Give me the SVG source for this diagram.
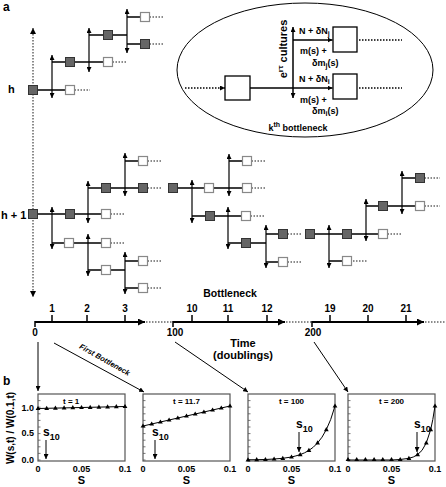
<svg xmlns="http://www.w3.org/2000/svg" xmlns:xlink="http://www.w3.org/1999/xlink" width="446" height="487" viewBox="0 0 446 487">
<style>
text{font-family:"Liberation Sans",Arial,sans-serif;font-weight:bold;fill:#000}
.ln{stroke:#000;stroke-width:1.5;fill:none}
.br{stroke:#000;stroke-width:1.2;fill:none;marker-start:url(#ah);marker-end:url(#ah)}
.dt{stroke:#666;stroke-width:1.5;stroke-dasharray:1.5 1.5;fill:none}
.dk{fill:#666;stroke:#333;stroke-width:1}
.wt{fill:#fff;stroke:#888;stroke-width:1.2}
.bx{fill:#fff;stroke:#000;stroke-width:1.3}
.fr{fill:#fff;stroke:#555;stroke-width:1.2}
.tk{stroke:#555;stroke-width:0.8}
.cv{stroke:#000;stroke-width:1;fill:none}
.ax{stroke:#000;stroke-width:2;fill:none}
.pt{fill:#000}
.sm{font-size:9px}
.md{font-size:10px}
.sl{font-size:11px}
</style>
<defs>
<marker id="ah" viewBox="0 0 8 8" refX="8" refY="4" markerWidth="5" markerHeight="5" markerUnits="userSpaceOnUse" orient="auto-start-reverse"><path d="M0,0 L8,4 L0,8 z" fill="#000"/></marker>
<marker id="ag" viewBox="0 0 8 8" refX="8" refY="4" markerWidth="6" markerHeight="6" markerUnits="userSpaceOnUse" orient="auto-start-reverse"><path d="M0,0 L8,4 L0,8 z" fill="#000"/></marker>
<marker id="ab" viewBox="0 0 8 8" refX="8" refY="4" markerWidth="8" markerHeight="7" markerUnits="userSpaceOnUse" orient="auto"><path d="M0,0 L8,4 L0,8 z" fill="#000"/></marker>
<path id="tr" d="M0,-2.6 L2.4,1.6 L-2.4,1.6Z"/>
</defs>

<text x="3" y="11" style="font-size:12px">a</text>
<text x="8" y="93" style="font-size:11px">h</text>
<text x="1" y="219" style="font-size:11px">h + 1</text>

<g id="connectors">
<line x1="33" y1="28" x2="33" y2="297" class="dt" style="marker-start:url(#ag);marker-end:url(#ag)"/>
<path class="ln" d="M37.5,90H65.5M52,62H65.5M74.5,62H103.5M89,35H103.5M112.5,35H127M127,17H140.5M127,44H140.5"/>
<path class="dt" d="M74.5,90H90M112.5,62H127M149.5,17H164M149.5,44H164"/>
<line class="br" x1="52" y1="55" x2="52" y2="98"/>
<line class="br" x1="89" y1="28" x2="89" y2="72"/>
<line class="br" x1="127" y1="9" x2="127" y2="53"/>
<path class="ln" d="M37.5,214H65.5M74.5,214H101.5M52,243H64.5M73.5,243H101.5M88,188H101.5M110.5,188H138.5M125,161H138.5M88,270H101.5M110.5,270H125M125,261H138.5M125,288H138.5"/>
<path class="dt" d="M110.5,214H125M110.5,243H125M147.5,188H162M147.5,161H162M147.5,261H162M147.5,288H162"/>
<line class="br" x1="52" y1="207" x2="52" y2="249"/>
<line class="br" x1="88" y1="181" x2="88" y2="223"/>
<line class="br" x1="125" y1="153" x2="125" y2="196"/>
<line class="br" x1="88" y1="234" x2="88" y2="276"/>
<line class="br" x1="125" y1="252" x2="125" y2="294"/>
<path class="ln" d="M177.5,188H204.5M213.5,188H242.5M229,161H242.5M192,216H205.5M214.5,216H241.5M228,243H241.5M250.5,243H266M266,234H278.5M266,262H278.5"/>
<path class="dt" d="M251.5,188H266M251.5,161H266M250.5,216H265M287.5,234H302M287.5,262H302"/>
<line class="br" x1="192" y1="180" x2="192" y2="223"/>
<line class="br" x1="229" y1="154" x2="229" y2="196"/>
<line class="br" x1="228" y1="207" x2="228" y2="249"/>
<line class="br" x1="266" y1="225" x2="266" y2="268"/>
<path class="ln" d="M314.5,234H342.5M351.5,234H378.5M329,261H342.5M366,206H378.5M387.5,206H415.5M402,178H415.5"/>
<path class="dt" d="M387.5,234H402M353,261H368M424.5,206H440M424.5,178H440"/>
<line class="br" x1="329" y1="225" x2="329" y2="268"/>
<line class="br" x1="366" y1="199" x2="366" y2="241"/>
<line class="br" x1="402" y1="171" x2="402" y2="214"/>
<ellipse cx="305" cy="70" rx="128" ry="67" fill="none" stroke="#000" stroke-width="1"/>
<line x1="185" y1="88" x2="225" y2="88" class="dt" style="stroke:#000;marker-end:url(#ah)"/>
<line x1="250" y1="88" x2="332.5" y2="88" class="ln" style="marker-end:url(#ah)"/>
<line x1="293" y1="27" x2="293" y2="98" class="br" style="stroke-width:1.5"/>
<line x1="293" y1="40" x2="332.5" y2="40" class="ln" style="marker-end:url(#ah)"/>
<path class="dt" style="stroke:#000" d="M359,40H402M359,88H402"/>
<path class="ax" d="M35,322H145" style="marker-end:url(#ab)"/>
<path class="ax" d="M173,322H285" style="marker-end:url(#ab)"/>
<path class="ax" d="M312,322H424" style="marker-end:url(#ab)"/>
<path class="dt" d="M146,322H173M286,322H312M425,322H446"/>
<path class="ln" d="M35,321V327M52,322V315M87,322V315M125,322V315M173,321V327M192,322V315M228,322V315M267,322V315M312,321V327M330,322V315M368,322V315M406,322V315"/>
<line x1="38" y1="342" x2="38" y2="391" stroke="#000" stroke-width="1" style="marker-end:url(#ah)"/>
<line x1="54" y1="343" x2="144" y2="392" stroke="#000" stroke-width="1" style="marker-end:url(#ah)"/>
<line x1="175" y1="342" x2="248" y2="392" stroke="#000" stroke-width="1" style="marker-end:url(#ah)"/>
<line x1="314" y1="342" x2="348" y2="392" stroke="#000" stroke-width="1" style="marker-end:url(#ah)"/>
</g>

<g id="n1a"><rect class="dk" x="28.5" y="85.5" width="9" height="9"/></g>
<g id="n1b"><rect class="wt" x="65.5" y="85.5" width="9" height="9"/></g>
<g id="n1c"><rect class="dk" x="65.5" y="57.5" width="9" height="9"/></g>
<g id="n1d"><rect class="wt" x="103.5" y="57.5" width="9" height="9"/></g>
<g id="n1e"><rect class="dk" x="103.5" y="30.5" width="9" height="9"/></g>
<g id="n1f"><rect class="wt" x="140.5" y="12.5" width="9" height="9"/></g>
<g id="n1g"><rect class="dk" x="140.5" y="39.5" width="9" height="9"/></g>

<g id="n2a"><rect class="dk" x="28.5" y="209.5" width="9" height="9"/></g>
<g id="n2b"><rect class="dk" x="65.5" y="209.5" width="9" height="9"/></g>
<g id="n2c"><rect class="wt" x="101.5" y="209.5" width="9" height="9"/></g>
<g id="n2d"><rect class="dk" x="101.5" y="183.5" width="9" height="9"/></g>
<g id="n2e"><rect class="dk" x="138.5" y="183.5" width="9" height="9"/></g>
<g id="n2f"><rect class="wt" x="138.5" y="156.5" width="9" height="9"/></g>
<g id="n2g"><rect class="wt" x="64.5" y="238.5" width="9" height="9"/></g>
<g id="n2h"><rect class="wt" x="101.5" y="238.5" width="9" height="9"/></g>
<g id="n2i"><rect class="wt" x="101.5" y="265.5" width="9" height="9"/></g>
<g id="n2j"><rect class="wt" x="138.5" y="256.5" width="9" height="9"/></g>
<g id="n2k"><rect class="wt" x="138.5" y="283.5" width="9" height="9"/></g>

<g id="n3a"><rect class="dk" x="168.5" y="183.5" width="9" height="9"/></g>
<g id="n3b"><rect class="wt" x="204.5" y="183.5" width="9" height="9"/></g>
<g id="n3c"><rect class="wt" x="242.5" y="183.5" width="9" height="9"/></g>
<g id="n3d"><rect class="wt" x="242.5" y="156.5" width="9" height="9"/></g>
<g id="n3e"><rect class="dk" x="205.5" y="211.5" width="9" height="9"/></g>
<g id="n3f"><rect class="wt" x="241.5" y="211.5" width="9" height="9"/></g>
<g id="n3g"><rect class="dk" x="241.5" y="238.5" width="9" height="9"/></g>
<g id="n3h"><rect class="dk" x="278.5" y="229.5" width="9" height="9"/></g>
<g id="n3i"><rect class="wt" x="278.5" y="257.5" width="9" height="9"/></g>

<g id="n4a"><rect class="dk" x="305.5" y="229.5" width="9" height="9"/></g>
<g id="n4b"><rect class="dk" x="342.5" y="229.5" width="9" height="9"/></g>
<g id="n4c"><rect class="wt" x="378.5" y="229.5" width="9" height="9"/></g>
<g id="n4d"><rect class="wt" x="342.5" y="256.5" width="9" height="9"/></g>
<g id="n4e"><rect class="dk" x="378.5" y="201.5" width="9" height="9"/></g>
<g id="n4f"><rect class="wt" x="415.5" y="201.5" width="9" height="9"/></g>
<g id="n4g"><rect class="dk" x="415.5" y="173.5" width="9" height="9"/></g>

<g id="e-src"><rect class="bx" x="225" y="76" width="25" height="24"/></g>
<g id="e-j"><rect class="bx" x="333" y="27" width="24" height="25"/></g>
<g id="e-i"><rect class="bx" x="333" y="74" width="24" height="25"/></g>
<g id="e-labels">
<text transform="translate(287,49) rotate(-90)" text-anchor="middle" style="font-size:11px">e<tspan dy="-4" style="font-size:8px">rτ</tspan><tspan dy="4"> cultures</tspan></text>
<text x="299" y="34" class="sm">N + δN<tspan dy="2" style="font-size:7px">j</tspan></text>
<text x="300" y="54" class="sm">m(s) +</text>
<text x="312" y="66" class="sm">δm<tspan dy="2" style="font-size:7px">j</tspan><tspan dy="-2">(s)</tspan></text>
<text x="299" y="82" class="sm">N + δN<tspan dy="2" style="font-size:7px">i</tspan></text>
<text x="300" y="103" class="sm">m(s) +</text>
<text x="312" y="114" class="sm">δm<tspan dy="2" style="font-size:7px">i</tspan><tspan dy="-2">(s)</tspan></text>
<text x="298" y="131" class="sm" text-anchor="middle">k<tspan dy="-4" style="font-size:7px">th</tspan><tspan dy="4"> bottleneck</tspan></text>
</g>

<g id="axis-labels" style="font-size:10px" text-anchor="middle">
<text x="230" y="297" style="font-size:10.5px">Bottleneck</text>
<text x="52" y="312">1</text><text x="87" y="312">2</text><text x="125" y="312">3</text>
<text x="192" y="312">10</text><text x="228" y="312">11</text><text x="267" y="312">12</text>
<text x="330" y="312">19</text><text x="368" y="312">20</text><text x="406" y="312">21</text>
<text x="35" y="336">0</text><text x="175" y="336">100</text><text x="313" y="336">200</text>
<text x="243" y="347" style="font-size:11px">Time</text>
<text x="243" y="359" style="font-size:11px">(doublings)</text>
<text transform="translate(103.5,362) rotate(29.5)" style="font-size:7.5px;font-style:italic">First Bottleneck</text>
</g>

<text x="3" y="385" style="font-size:12px">b</text>
<text transform="translate(14,428) rotate(-90)" text-anchor="middle" style="font-size:10px">W(s,t) / W(0.1,t)</text>

<g id="panel1">
<rect class="fr" x="38" y="394" width="87" height="67"/>
<path class="tk" d="M38,460h2.5M38,453.4h2.5M38,446.8h2.5M38,440.2h2.5M38,433.6h2.5M38,427h2.5M38,420.4h2.5M38,413.8h2.5M38,407.2h2.5M38,400.6h2.5"/>
<text x="63" y="403.5" style="font-size:8px">t = 1</text>
<polyline class="cv" points="38,408.5 125,406.5"/>
<g class="pt"><use xlink:href="#tr" x="38" y="408.5"/><use xlink:href="#tr" x="46.7" y="408.3"/><use xlink:href="#tr" x="55.4" y="408.1"/><use xlink:href="#tr" x="64.1" y="407.9"/><use xlink:href="#tr" x="72.8" y="407.7"/><use xlink:href="#tr" x="81.5" y="407.5"/><use xlink:href="#tr" x="90.2" y="407.3"/><use xlink:href="#tr" x="98.9" y="407.1"/><use xlink:href="#tr" x="107.6" y="406.9"/><use xlink:href="#tr" x="116.3" y="406.7"/><use xlink:href="#tr" x="125" y="406.5"/></g>
<text x="43" y="436" style="font-size:12px">s<tspan dy="4" style="font-size:9px">10</tspan></text>
<line x1="46" y1="440" x2="46" y2="459" stroke="#000" stroke-width="1" style="marker-end:url(#ah)"/>
<g class="sm" text-anchor="end"><text x="34" y="411">1.0</text><text x="34" y="436">0.5</text><text x="34" y="463">0.0</text></g>
<g class="sm" text-anchor="middle"><text x="38" y="472">0</text><text x="81.5" y="472">0.05</text><text x="125" y="472">0.1</text></g>
<text x="81.5" y="484" text-anchor="middle" class="sl">S</text>
</g>

<g id="panel2">
<rect class="fr" x="143" y="394" width="87" height="67"/>
<path class="tk" d="M143,460h2.5M143,453.4h2.5M143,446.8h2.5M143,440.2h2.5M143,433.6h2.5M143,427h2.5M143,420.4h2.5M143,413.8h2.5M143,407.2h2.5M143,400.6h2.5"/>
<text x="186.5" y="403.5" text-anchor="middle" style="font-size:8px">t = 11.7</text>
<polyline class="cv" points="143,426 230,406"/>
<g class="pt"><use xlink:href="#tr" x="143" y="426"/><use xlink:href="#tr" x="151.7" y="424"/><use xlink:href="#tr" x="160.4" y="422"/><use xlink:href="#tr" x="169.1" y="420"/><use xlink:href="#tr" x="177.8" y="418"/><use xlink:href="#tr" x="186.5" y="416"/><use xlink:href="#tr" x="195.2" y="414"/><use xlink:href="#tr" x="203.9" y="412"/><use xlink:href="#tr" x="212.6" y="410"/><use xlink:href="#tr" x="221.3" y="408"/><use xlink:href="#tr" x="230" y="406"/></g>
<text x="152" y="436" style="font-size:12px">s<tspan dy="4" style="font-size:9px">10</tspan></text>
<line x1="155" y1="440" x2="155" y2="459" stroke="#000" stroke-width="1" style="marker-end:url(#ah)"/>
<g class="sm" text-anchor="middle"><text x="143" y="472">0</text><text x="186.5" y="472">0.05</text><text x="230" y="472">0.1</text></g>
<text x="186.5" y="484" text-anchor="middle" class="sl">S</text>
</g>

<g id="panel3">
<rect class="fr" x="248" y="394" width="87" height="67"/>
<path class="tk" d="M248,460h2.5M248,453.4h2.5M248,446.8h2.5M248,440.2h2.5M248,433.6h2.5M248,427h2.5M248,420.4h2.5M248,413.8h2.5M248,407.2h2.5M248,400.6h2.5"/>
<text x="291.5" y="403.5" text-anchor="middle" style="font-size:8px">t = 100</text>
<polyline class="cv" points="248,459.8 256.7,459.7 265.4,459.5 274.1,459 282.8,458.3 291.5,457 295.9,455.9 300.2,454.6 304.6,452.8 308.9,450.4 313.3,447.2 317.6,442.9 322,437.2 326.3,429.6 330.7,419.5 335,406"/>
<g class="pt"><use xlink:href="#tr" x="248" y="459.8"/><use xlink:href="#tr" x="256.7" y="459.7"/><use xlink:href="#tr" x="265.4" y="459.5"/><use xlink:href="#tr" x="274.1" y="459"/><use xlink:href="#tr" x="282.8" y="458.3"/><use xlink:href="#tr" x="291.5" y="457"/><use xlink:href="#tr" x="300.2" y="454.6"/><use xlink:href="#tr" x="308.9" y="450.4"/><use xlink:href="#tr" x="317.6" y="442.9"/><use xlink:href="#tr" x="326.3" y="429.6"/><use xlink:href="#tr" x="335" y="406"/></g>
<text x="296" y="428" style="font-size:12px">s<tspan dy="4" style="font-size:9px">10</tspan></text>
<line x1="299" y1="432" x2="299" y2="452" stroke="#000" stroke-width="1" style="marker-end:url(#ah)"/>
<g class="sm" text-anchor="middle"><text x="248" y="472">0</text><text x="291.5" y="472">0.05</text><text x="335" y="472">0.1</text></g>
<text x="291.5" y="484" text-anchor="middle" class="sl">S</text>
</g>

<g id="panel4">
<rect class="fr" x="348" y="394" width="87" height="67"/>
<path class="tk" d="M348,460h2.5M348,453.4h2.5M348,446.8h2.5M348,440.2h2.5M348,433.6h2.5M348,427h2.5M348,420.4h2.5M348,413.8h2.5M348,407.2h2.5M348,400.6h2.5"/>
<text x="391.5" y="403.5" text-anchor="middle" style="font-size:8px">t = 200</text>
<polyline class="cv" points="348,460 391.5,460 400.2,459.5 408.9,458.3 413.3,457 417.6,454.6 422,450.4 426.3,442.9 430.7,429.6 432.8,419.5 435,406"/>
<g class="pt"><use xlink:href="#tr" x="348" y="459.5"/><use xlink:href="#tr" x="356.7" y="459.5"/><use xlink:href="#tr" x="365.4" y="459.5"/><use xlink:href="#tr" x="374.1" y="459.5"/><use xlink:href="#tr" x="382.8" y="459.5"/><use xlink:href="#tr" x="391.5" y="459.5"/><use xlink:href="#tr" x="400.2" y="459.5"/><use xlink:href="#tr" x="408.9" y="458.3"/><use xlink:href="#tr" x="417.6" y="454.6"/><use xlink:href="#tr" x="426.3" y="442.9"/><use xlink:href="#tr" x="430.7" y="429.6"/><use xlink:href="#tr" x="435" y="406"/></g>
<text x="414" y="428" style="font-size:12px">s<tspan dy="4" style="font-size:9px">10</tspan></text>
<line x1="417" y1="432" x2="417" y2="452" stroke="#000" stroke-width="1" style="marker-end:url(#ah)"/>
<g class="sm" text-anchor="middle"><text x="348" y="472">0</text><text x="391.5" y="472">0.05</text><text x="435" y="472">0.1</text></g>
<text x="391.5" y="484" text-anchor="middle" class="sl">S</text>
</g>
</svg>
